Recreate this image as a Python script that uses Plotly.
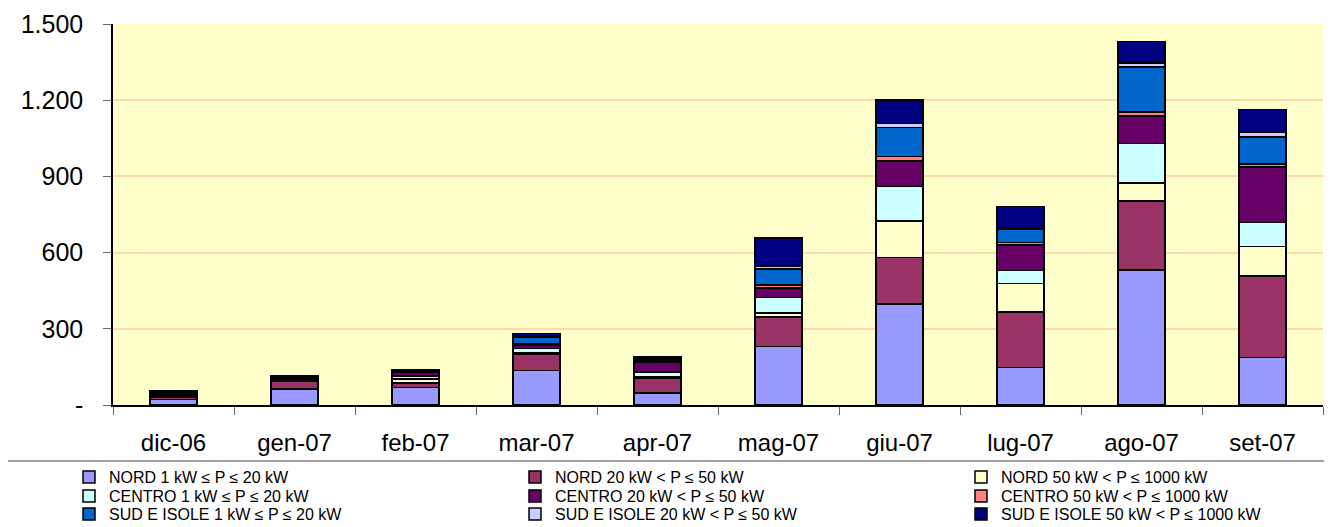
import plotly.graph_objects as go

months = ["dic-06", "gen-07", "feb-07", "mar-07", "apr-07", "mag-07", "giu-07", "lug-07", "ago-07", "set-07"]

series_names = [
    "NORD 1 kW ≤ P ≤ 20 kW",
    "NORD 20 kW < P ≤ 50 kW",
    "NORD 50 kW < P ≤ 1000 kW",
    "CENTRO 1 kW ≤ P ≤ 20 kW",
    "CENTRO 20 kW < P ≤ 50 kW",
    "CENTRO 50 kW < P ≤ 1000 kW",
    "SUD E ISOLE 1 kW ≤ P ≤ 20 kW",
    "SUD E ISOLE 20 kW < P ≤ 50 kW",
    "SUD E ISOLE 50 kW < P ≤ 1000 kW",
]

nord_1_20 =      [22, 63, 69, 136, 48, 231, 398, 148, 531, 187]
nord_20_50 =     [8, 29, 17, 63, 57, 116, 182, 219, 273, 320]
nord_50_1000 =   [3, 2, 17, 5, 5, 15, 144, 112, 70, 117]
centro_1_20 =    [4, 5, 12, 19, 20, 61, 136, 50, 155, 94]
centro_20_50 =   [6, 3, 13, 13, 38, 37, 100, 101, 108, 219]
centro_50_1000 = [2, 1, 2, 4, 6, 13, 19, 9, 17, 12]
sud_1_20 =       [5, 8, 3, 28, 8, 63, 114, 54, 176, 107]
sud_20_50 =      [2, 2, 1, 3, 2, 12, 16, 4, 17, 17]
sud_50_1000 =    [6, 4, 5, 11, 5, 110, 91, 84, 84, 90]

series_values = [nord_1_20, nord_20_50, nord_50_1000,
                 centro_1_20, centro_20_50, centro_50_1000,
                 sud_1_20, sud_20_50, sud_50_1000]

colors = ["#9999FF", "#993366", "#FFFFCC", "#CCFFFF", "#660066", "#FF8080",
          "#0066CC", "#CCCCFF", "#000080"]

y_tick_vals = [0, 300, 600, 900, 1200, 1500]
y_tick_text = ["-", "300", "600", "900", "1.200", "1.500"]

# the page puts the figure 8 px in from the top-left corner
OFF = 8
PAGE_W, PAGE_H = 1332, 527
W, H = PAGE_W - OFF, PAGE_H - OFF
# plot area in page pixels: x 113..1323, y 24..405
L = 113 - OFF
T = 24 - OFF
R = W - (1323 - OFF)
B = H - (405 - OFF)
pw = W - L - R
ph = H - T - B
plot_bottom = T + ph

FONT = "Liberation Sans, Arial, sans-serif"

col_x_page = [69, 515, 961]
row_y_page = [477, 496, 514]

legend_ids = ["legend"] + ["legend%d" % k for k in range(2, 10)]

fig = go.Figure()
for i, (name, vals, col) in enumerate(zip(series_names, series_values, colors)):
    fig.add_trace(go.Bar(
        x=months, y=vals, name=name,
        legend=legend_ids[i],
        marker=dict(color=col, line=dict(color="#000000", width=1.5)),
    ))

legend_layout = {}
for i, lid in enumerate(legend_ids):
    r, c = divmod(i, 3)
    xpx = col_x_page[c] - OFF
    ypx = row_y_page[r] - OFF
    legend_layout[lid] = dict(
        orientation="h",
        x=(xpx - L) / pw, xanchor="left",
        y=-(ypx - plot_bottom) / ph, yanchor="middle",
        font=dict(size=16, family=FONT),
        itemwidth=30,
        bgcolor="rgba(0,0,0,0)",
        borderwidth=0,
    )

sep_y = 461 - OFF

fig.update_layout(
    width=W, height=H,
    barmode="stack",
    bargap=0.61,
    plot_bgcolor="#FFFFCC",
    paper_bgcolor="#FFFFFF",
    margin=dict(l=L, r=R, t=T, b=B, pad=0, autoexpand=False),
    font=dict(family=FONT, color="#000000"),
    showlegend=True,
    xaxis=dict(
        showline=True, linecolor="#000000", linewidth=1.5,
        ticks="outside", tickson="boundaries", ticklen=8, tickcolor="#666666",
        tickfont=dict(size=24),
        ticklabelstandoff=15,
        showgrid=False,
    ),
    yaxis=dict(
        range=[0, 1500],
        tickvals=y_tick_vals, ticktext=y_tick_text,
        showline=True, linecolor="#000000", linewidth=1.5,
        ticks="outside", ticklen=8, tickcolor="#666666",
        tickfont=dict(size=25),
        ticklabelstandoff=15,
        showgrid=True, gridcolor="#FFD8A8", gridwidth=1.5,
        zeroline=False,
    ),
    shapes=[dict(
        type="line", xref="paper", yref="paper",
        x0=-(L + OFF) / pw, x1=(W - L) / pw,
        y0=-(sep_y - plot_bottom) / ph, y1=-(sep_y - plot_bottom) / ph,
        line=dict(color="#808080", width=1.5),
    )],
    **legend_layout,
)

fig.write_html("out.html")
